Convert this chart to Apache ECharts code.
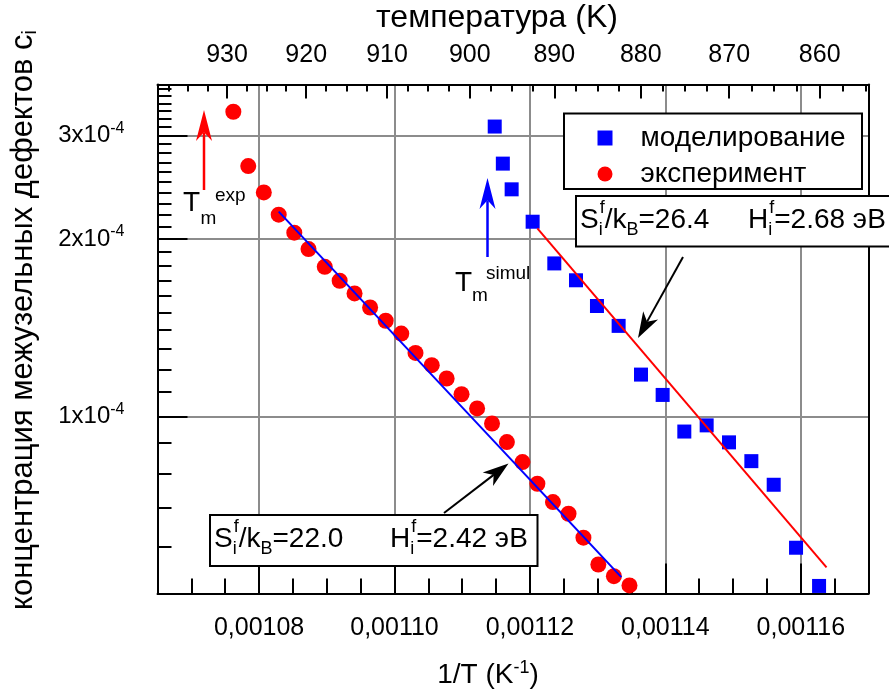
<!DOCTYPE html>
<html><head><meta charset="utf-8">
<script src="https://cdn.jsdelivr.net/npm/echarts@6/dist/echarts.min.js"></script>
<style>html,body{margin:0;padding:0;background:#fff}#c{width:889px;height:693px}</style>
</head><body><div id="c"></div>
<script>
// ---- data ----
const simInvT = [0.0011148,0.0011160,0.0011173,0.0011204,0.0011236,0.0011268,0.0011299,0.0011331,0.0011364,0.0011396,0.0011428,0.0011461,0.0011494,0.0011527,0.0011560,0.0011593,0.0011627];
const simConc = [3.105e-4,2.686e-4,2.429e-4,2.140e-4,1.818e-4,1.702e-4,1.539e-4,1.424e-4,1.177e-4,1.087e-4,0.942e-4,0.965e-4,0.903e-4,0.839e-4,0.765e-4,0.598e-4,0.515e-4];
const expInvT = [0.0010762,0.0010784,0.0010807,0.0010829,0.0010852,0.0010873,0.0010897,0.0010919,0.0010941,0.0010964,0.0010987,0.0011010,0.0011031,0.0011055,0.0011077,0.0011099,0.0011122,0.0011144,0.0011166,0.0011189,0.0011211,0.0011234,0.0011257,0.0011279,0.0011301,0.0011324,0.0011347];
const expConc = [3.29e-4,2.66e-4,2.40e-4,2.20e-4,2.05e-4,1.923e-4,1.794e-4,1.699e-4,1.617e-4,1.530e-4,1.453e-4,1.382e-4,1.281e-4,1.221e-4,1.159e-4,1.090e-4,1.031e-4,0.972e-4,0.904e-4,0.836e-4,0.768e-4,0.715e-4,0.683e-4,0.622e-4,0.560e-4,0.535e-4,0.516e-4];
const fitExpInvT = [0.0010829, 0.0011335];
const fitExpConc = [2.226e-4, 5.33e-5];
const fitSimInvT = [0.0011211, 0.0011638];
const fitSimConc = [2.085e-4, 5.54e-5];
const xTicks = [0.00108, 0.00110, 0.00112, 0.00114, 0.00116];
const yTicks = [1e-4, 2e-4, 3e-4];
const yTickMantissa = ['1', '2', '3'];
const yTickExp = '-4';
const topTemps = [930, 920, 910, 900, 890, 880, 870, 860];
const X_MIN = 0.001065, X_MAX = 0.00117, Y_MIN = 5e-5, Y_MAX = 3.66e-4;

// minor tick positions
const xMinor = []; for (let k = 0; k <= 21; k++) xMinor.push(+(X_MIN + k * 0.000005).toFixed(8));
const topMinor = []; for (let t = 937.5; t >= 855; t -= 2.5) topMinor.push(1 / t);
const yMinor = []; for (let m = 5; m <= 36; m++) yMinor.push(m * 1e-5);

const FONT = '"Liberation Sans", Arial, sans-serif';
const mctx = document.createElement('canvas').getContext('2d');
function tw(s, size) { mctx.font = size + 'px ' + FONT; return mctx.measureText(s).width; }
function T(text, x, y, size, color) {
  return { type: 'text', x: x, y: y, z: 20, style: { text: text, font: size + 'px ' + FONT, fill: color || '#000', align: 'left', verticalAlign: 'middle' } };
}
function formula(x, yc, F, parts) {
  const out = []; let cx = x; const s = Math.round(F * 0.64);
  parts.forEach(p => {
    if (p.n != null) { out.push(T(p.n, cx, yc, F)); cx += tw(p.n, F); }
    else {
      let w = 0;
      if (p.sup) { out.push(T(p.sup, cx + 1, yc - 0.42 * F, s)); w = Math.max(w, tw(p.sup, s) + 1); }
      if (p.sub) { out.push(T(p.sub, cx, yc + 0.36 * F, s)); w = Math.max(w, tw(p.sub, s)); }
      cx += w;
    }
  });
  return out;
}
function arrow(x1, y1, x2, y2, color, lw, hl, hw) {
  const dx = x2 - x1, dy = y2 - y1, L = Math.hypot(dx, dy), ux = dx / L, uy = dy / L, px = -uy, py = ux;
  const bx = x2 - ux * hl, by = y2 - uy * hl, nx = x2 - ux * hl * 0.72, ny = y2 - uy * hl * 0.72;
  return [
    { type: 'line', z: 20, shape: { x1: x1, y1: y1, x2: nx, y2: ny }, style: { stroke: color, lineWidth: lw } },
    { type: 'polygon', z: 20, shape: { points: [[x2, y2], [bx + px * hw, by + py * hw], [nx, ny], [bx - px * hw, by - py * hw]] }, style: { fill: color } }
  ];
}

const GRID_COL = '#8c8c8c';
const chart = echarts.init(document.getElementById('c'), null, { renderer: 'canvas' });

const graphicEls = [].concat(
  // legend frame
  [{ type: 'rect', z: 15, shape: { x: 564, y: 113.5, width: 298, height: 75.5 }, style: { fill: '#fff', stroke: '#000', lineWidth: 2 } }],
  // annotation boxes
  [{ type: 'rect', z: 15, shape: { x: 576, y: 196, width: 330, height: 50.5 }, style: { fill: '#fff', stroke: '#000', lineWidth: 2 } }],
  [{ type: 'rect', z: 15, shape: { x: 210, y: 515, width: 327.5, height: 51 }, style: { fill: '#fff', stroke: '#000', lineWidth: 2 } }],
  formula(580, 220, 28, [{ n: 'S' }, { sup: 'f', sub: 'i' }, { n: '/k' }, { sub: 'B' }, { n: '=26.4' }]),
  formula(748, 220, 28, [{ n: 'H' }, { sup: 'f', sub: 'i' }, { n: '=2.68 эВ' }]),
  formula(214, 539, 28, [{ n: 'S' }, { sup: 'f', sub: 'i' }, { n: '/k' }, { sub: 'B' }, { n: '=22.0' }]),
  formula(390, 539, 28, [{ n: 'H' }, { sup: 'f', sub: 'i' }, { n: '=2.42 эВ' }]),
  // T_m labels
  [T('T', 183, 203.5, 28), T('m', 200.5, 219, 19), T('exp', 215, 196, 19)],
  [T('T', 455, 283.5, 28), T('m', 472, 296, 19), T('simul', 486, 274, 19)],
  arrow(204, 190, 204, 110, '#ff0000', 2.5, 31, 8),
  arrow(487.5, 257, 487.5, 178, '#0000ff', 2.5, 31, 8),
  arrow(683, 257, 638, 338, '#000', 2, 26, 8.5),
  arrow(444, 513, 508.5, 463.5, '#000', 2, 26, 8.5),
  // axis titles
  [{ type: 'text', z: 20, x: 497, y: 18, style: { text: 'температура (K)', font: '32px ' + FONT, fill: '#000', align: 'center', verticalAlign: 'middle' } }],
  [{ type: 'text', z: 20, x: 488, y: 675, style: { text: '{a|1/T (K}{s|-1}{a|)}', fill: '#000', align: 'center', verticalAlign: 'middle',
      rich: { a: { fontSize: 28, fontFamily: FONT, lineHeight: 32 }, s: { fontSize: 18, fontFamily: FONT, lineHeight: 18, verticalAlign: 'top' } } } }],
  [{ type: 'text', z: 20, x: 23, y: 320, rotation: Math.PI / 2, style: { text: '{a|концентрация межузельных дефектов c}{s|i}', fill: '#000', align: 'center', verticalAlign: 'middle',
      rich: { a: { fontSize: 31, fontFamily: FONT, lineHeight: 34 }, s: { fontSize: 20, fontFamily: FONT, lineHeight: 20, verticalAlign: 'bottom' } } } }]
);

const lineBlack = { show: true, lineStyle: { color: '#000', width: 2 } };
const baseX = { type: 'value', min: X_MIN, max: X_MAX, gridIndex: 0 };
const baseY = { type: 'log', logBase: 10, min: Y_MIN, max: Y_MAX, gridIndex: 0 };

const option = {
  animation: false,
  backgroundColor: '#fff',
  grid: { left: 157.5, right: 20.5, top: 84.5, bottom: 99.5, containLabel: false, outerBoundsMode: 'none' },
  xAxis: [
    Object.assign({}, baseX, { position: 'bottom', offset: 0, axisLine: lineBlack,
      axisTick: { show: true, inside: true, length: 30, customValues: xTicks, lineStyle: { color: '#000', width: 2 } },
      axisLabel: { show: true, customValues: xTicks, margin: 22, fontSize: 25, fontFamily: FONT, color: '#000', formatter: v => v.toFixed(5).replace('.', ',') },
      splitLine: { show: true, lineStyle: { color: GRID_COL, width: 2 } } }),
    Object.assign({}, baseX, { position: 'bottom', offset: 0, axisLine: { show: false },
      axisTick: { show: true, inside: true, length: 15, customValues: xMinor, lineStyle: { color: '#000', width: 2 } },
      axisLabel: { show: false }, splitLine: { show: false } }),
    Object.assign({}, baseX, { position: 'top', offset: 0, axisLine: lineBlack,
      axisTick: { show: true, inside: true, length: 14, customValues: topTemps.map(t => 1 / t), lineStyle: { color: '#000', width: 2 } },
      axisLabel: { show: true, customValues: topTemps.map(t => 1 / t), margin: 17, fontSize: 25, fontFamily: FONT, color: '#000', formatter: v => String(Math.round(1 / v)) },
      splitLine: { show: false } }),
    Object.assign({}, baseX, { position: 'top', offset: 0, axisLine: { show: false },
      axisTick: { show: true, inside: true, length: 7, customValues: topMinor, lineStyle: { color: '#000', width: 2 } },
      axisLabel: { show: false }, splitLine: { show: false } })
  ],
  yAxis: [
    Object.assign({}, baseY, { position: 'left', offset: 0, axisLine: lineBlack,
      axisTick: { show: true, inside: true, length: 30, customValues: yTicks, lineStyle: { color: '#000', width: 2 } },
      axisLabel: { show: true, customValues: yTicks, margin: 33, color: '#000',
        formatter: v => '{b|' + yTickMantissa[yTicks.findIndex(t => Math.abs(t - v) / t < 1e-6)] + 'x10}{s|' + yTickExp + '}',
        rich: { b: { fontSize: 24, fontFamily: FONT, lineHeight: 30 }, s: { fontSize: 16, fontFamily: FONT, lineHeight: 14, verticalAlign: 'top' } } },
      splitLine: { show: true, lineStyle: { color: GRID_COL, width: 2 } } }),
    Object.assign({}, baseY, { position: 'left', offset: 0, axisLine: { show: false },
      axisTick: { show: true, inside: true, length: 14, customValues: yMinor, lineStyle: { color: '#000', width: 2 } },
      axisLabel: { show: false }, splitLine: { show: false } }),
    Object.assign({}, baseY, { position: 'right', offset: 0, axisLine: lineBlack,
      axisTick: { show: false }, axisLabel: { show: false }, splitLine: { show: false } })
  ],
  legend: { show: true, orient: 'vertical', left: 592.5, top: 119, itemWidth: 15, itemHeight: 15, itemGap: 8, z: 21, selectedMode: false,
    textStyle: { fontSize: 28, fontFamily: FONT, color: '#000', lineHeight: 28, padding: [0, 0, 0, 23] },
    data: [{ name: 'моделирование', icon: 'rect' }, { name: 'эксперимент', icon: 'circle' }] },
  graphic: { elements: graphicEls },
  series: [
    { name: 'моделирование', type: 'scatter', xAxisIndex: 0, yAxisIndex: 0, symbol: 'rect', symbolSize: 14, z: 2,
      itemStyle: { color: '#0000ff', opacity: 1 }, data: simInvT.map((x, i) => [x, simConc[i]]) },
    { name: 'эксперимент', type: 'scatter', xAxisIndex: 0, yAxisIndex: 0, symbol: 'circle', symbolSize: 16, z: 2,
      itemStyle: { color: '#ff0000', opacity: 1 }, data: expInvT.map((x, i) => [x, expConc[i]]) },
    { name: 'fitExp', type: 'line', xAxisIndex: 0, yAxisIndex: 0, showSymbol: false, symbol: 'none', z: 3,
      lineStyle: { color: '#0000ff', width: 2 }, data: fitExpInvT.map((x, i) => [x, fitExpConc[i]]) },
    { name: 'fitSim', type: 'line', xAxisIndex: 0, yAxisIndex: 0, showSymbol: false, symbol: 'none', z: 3,
      lineStyle: { color: '#ff0000', width: 2 }, data: fitSimInvT.map((x, i) => [x, fitSimConc[i]]) }
  ]
};
chart.setOption(option);
</script>
</body></html>
